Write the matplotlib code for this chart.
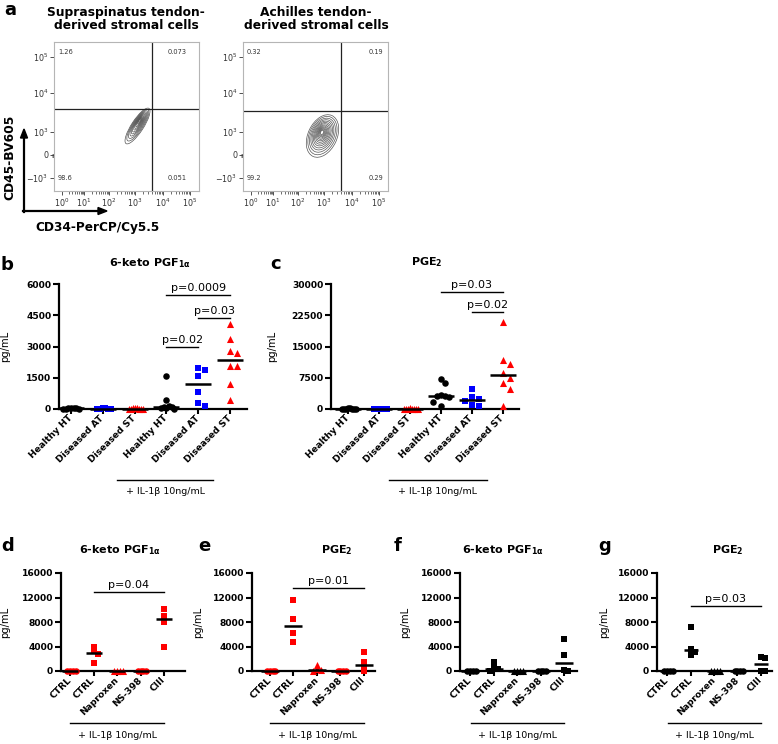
import numpy as np
import matplotlib.pyplot as plt
from matplotlib.patches import Ellipse
from matplotlib.transforms import blended_transform_factory

plt.rcParams['font.family'] = ['DejaVu Sans']
plt.rcParams['mathtext.default'] = 'regular'

# ---- data ----
# panel a: quadrant percentages (upper-left, upper-right, lower-left, lower-right)
quad_st = ['1.26', '0.073', '98.6', '0.051']
quad_at = ['0.32', '0.19', '99.2', '0.29']
flow_xticks = ['$10^0$', '$10^1$', '$10^2$', '$10^3$', '$10^4$', '$10^5$']
flow_yticks = ['$-10^3$', '0', '$10^3$', '$10^4$', '$10^5$']

# panels b, c
groups_bc = ['Healthy HT', 'Diseased AT', 'Diseased ST',
             'Healthy HT', 'Diseased AT', 'Diseased ST']
keto_b = [
    [40, 20, 60, 10, 30, 50, 0],
    [20, 10, 30, 0, 15, 25],
    [10, 30, 20, 0, 40, 15, 25, 5],
    [1600, 410, 140, 100, 80, 60, 30, 20],
    [1960, 1850, 1570, 810, 280, 120],
    [4070, 3360, 2800, 2700, 2050, 2040, 1220, 410],
]
pge2_c = [
    [120, 60, 90, 30, 150, 10, 80, 40],
    [60, 20, 100, 40, 0, 80],
    [100, 40, 70, 20, 130, 0, 60, 90],
    [7200, 6300, 3300, 3100, 3000, 2900, 1700, 600],
    [4800, 2800, 2300, 1900, 1000, 600],
    [20800, 11800, 10900, 8700, 7500, 6300, 4900, 800],
]

# panels d-g
groups_dg = ['CTRL', 'CTRL', 'Naproxen', 'NS-398', 'CIII']
keto_d = [[30, 10, 0, 20], [4000, 3300, 2700, 1250], [20, 0, 10, 30],
          [30, 10, 0, 20], [10100, 8900, 7950, 3950]]
pge2_e = [[30, 10, 0, 20], [11600, 8500, 6150, 4700], [900, 250, 100, 50],
          [30, 10, 0, 20], [3150, 1400, 700, 50]]
keto_f = [[30, 10, 0, 20], [1550, 500, 300, 50], [20, 0, 10, 30],
          [30, 10, 0, 20], [5300, 2600, 100, 80]]
pge2_g = [[30, 10, 0, 20], [7250, 3550, 3150, 2650], [20, 0, 10, 30],
          [30, 10, 0, 20], [2250, 2200, 50, 30]]

RED, BLUE, BLACK = '#ff0000', '#0000ff', '#000000'

W, H = 778, 744
fig = plt.figure(figsize=(W / 100, H / 100), dpi=100)


def px_axes(x0, y0, x1, y1):
    return fig.add_axes([x0 / W, 1 - y1 / H, (x1 - x0) / W, (y1 - y0) / H])


def ftext(x, y, s, **kw):
    fig.text(x / W, 1 - y / H, s, **kw)


# ---------------- panel a : flow plots ----------------
xt_pos = [8, 30, 55, 81, 109, 136]
yt_pos = [13, 36, 59, 98, 134]
left_levels = [1.0, 0.88, 0.77, 0.67, 0.58, 0.5, 0.42, 0.35, 0.28, 0.22, 0.16, 0.1]
right_levels = [1.0, 0.9, 0.8, 0.71, 0.63, 0.55, 0.48, 0.41, 0.35, 0.29,
                0.24, 0.19, 0.14, 0.1]


def flow_panel(x0, quad, hline, shape, levels, num_right):
    ax = px_axes(x0, 42, x0 + 145, 191)
    ax.set_xlim(0, 145)
    ax.set_ylim(0, 149)
    for s in ax.spines.values():
        s.set_color('#b5b5b5')
        s.set_linewidth(0.8)
    ax.set_xticks(xt_pos)
    ax.set_xticklabels(flow_xticks)
    ax.set_yticks(yt_pos)
    ax.set_yticklabels(flow_yticks)
    minor = []
    for a, b in zip(xt_pos[:-1], xt_pos[1:]):
        minor += [a + np.log10(k) * (b - a) for k in range(2, 10)]
    ax.set_xticks(minor, minor=True)
    ax.set_yticks([34.5, 35.5, 36.5, 37.5], minor=True)
    ax.tick_params(direction='out', length=3, width=0.6, color='#333333',
                   labelsize=5.8, pad=1, labelcolor='#333333')
    ax.tick_params(which='minor', direction='out', length=1.8, width=0.5,
                   color='#333333')
    ax.axvline(98, color='#222222', lw=0.9)
    ax.axhline(hline, color='#222222', lw=0.9)
    (cx, cy), (px, py), w, h, ang = shape
    for lv in levels:
        c = (px + (cx - px) * lv, py + (cy - py) * lv)
        ax.add_patch(Ellipse(c, w * lv, h * lv, angle=ang, fill=False,
                             ec='#555555', lw=0.5))
    kw = dict(fontsize=4.8, color='#333333', va='center')
    ax.text(4, 139, quad[0], ha='left', **kw)
    ax.text(num_right, 139, quad[1], ha='right', **kw)
    ax.text(4, 13, quad[2], ha='left', **kw)
    ax.text(num_right, 13, quad[3], ha='right', **kw)
    return ax


flow_panel(54, quad_st, 82, ((83.5, 65), (86, 71), 42, 12, 57), left_levels, 133)
flow_panel(243, quad_at, 80, ((79.5, 55), (79, 59), 45, 29, 65), right_levels, 140)

ftext(10, 10, 'a', fontsize=13, fontweight='bold', ha='center', va='center')
ftext(126, 19, 'Supraspinatus tendon-\nderived stromal cells', fontsize=8.8,
      fontweight='bold', ha='center', va='center', linespacing=1.05)
ftext(316, 19, 'Achilles tendon-\nderived stromal cells', fontsize=8.8,
      fontweight='bold', ha='center', va='center', linespacing=1.05)
ftext(10, 157, 'CD45-BV605', fontsize=8.8, fontweight='bold', rotation=90,
      ha='center', va='center')
ftext(97, 227, 'CD34-PerCP/Cy5.5', fontsize=8.7, fontweight='bold',
      ha='center', va='center')
fig.add_artist(plt.Line2D([24 / W, 24 / W], [1 - 212 / H, 1 - 136 / H],
                          color='black', lw=1.6))
fig.add_artist(plt.Line2D([23 / W, 100 / W], [1 - 211 / H, 1 - 211 / H],
                          color='black', lw=1.6))
fig.add_artist(plt.Polygon([[24 / W, 1 - 129 / H], [20.5 / W, 1 - 138 / H],
                            [27.5 / W, 1 - 138 / H]], closed=True, color='black'))
fig.add_artist(plt.Polygon([[107 / W, 1 - 211 / H], [98 / W, 1 - 207.5 / H],
                            [98 / W, 1 - 214.5 / H]], closed=True, color='black'))


# ---------------- dot plots ----------------
def swarm(ax, x0, vals, d, limit):
    # spread markers sideways like a scatter dot plot; squeeze if too wide
    tr = ax.transData
    placed = []
    for v in vals:
        p0 = tr.transform((x0, v))
        k = 0
        found = None
        while found is None:
            for c in ([0] if k == 0 else [k, -k]):
                p = (p0[0] + c * d, p0[1])
                if all((p[0] - q[0]) ** 2 + (p[1] - q[1]) ** 2 >= 0.98 * d * d
                       for q in placed):
                    found = p
                    break
            k += 1
        placed.append(found)
    cx = tr.transform((x0, 0))[0]
    offs = np.array([p[0] - cx for p in placed])
    big = np.abs(offs).max()
    if big > limit:
        offs = offs * limit / big
    inv = tr.inverted()
    return [inv.transform((cx + o, p[1]))[0] for o, p in zip(offs, placed)]


def dot_panel(box, data, labels, colors, markers, ymax, step, xlim,
              half_px, ylab_px, il_rng, il_y, sig, spread):
    x0, y0, x1, y1 = box
    ax = px_axes(x0, y0, x1, y1)
    ax.set_xlim(*xlim)
    ax.set_ylim(0, ymax)
    ppx = (x1 - x0) / (xlim[1] - xlim[0])
    half = half_px / ppx
    for i, vals in enumerate(data):
        v = sorted(vals, reverse=True)
        xs = swarm(ax, i, v, *spread)
        ax.scatter(xs, v, s=22 if markers[i] != '^' else 26, marker=markers[i],
                   color=colors[i], linewidths=0, clip_on=False, zorder=3)
        m = np.median(vals)
        ax.plot([i - half, i + half], [m, m], color='black', lw=1.8,
                clip_on=False, zorder=4, solid_capstyle='butt')
    for s in ['top', 'right']:
        ax.spines[s].set_visible(False)
    for s in ['left', 'bottom']:
        ax.spines[s].set_linewidth(1.6)
    ax.set_yticks(np.arange(0, ymax + 1, step))
    ax.set_xticks(range(len(labels)))
    ax.set_xticklabels(labels, rotation=45, ha='right', va='center',
                       rotation_mode='anchor', fontweight='bold', fontsize=6.6)
    for t in ax.get_yticklabels():
        t.set_fontweight('bold')
    ax.tick_params(axis='y', length=4, width=1.5, labelsize=6.6, pad=1.5)
    ax.tick_params(axis='x', length=3.5, width=1.5, pad=2)
    ax.set_ylabel('pg/mL', fontsize=7.2)
    ax.yaxis.set_label_coords(-ylab_px / (x1 - x0), 0.5)
    h = y1 - y0
    tr = blended_transform_factory(ax.transData, ax.transAxes)
    ax.plot(il_rng, [-il_y / h] * 2, color='black', lw=1, transform=tr,
            clip_on=False)
    ax.text(sum(il_rng) / 2, -(il_y + 12) / h, '+ IL-1\u03b2 10ng/mL', fontsize=6.8,
            ha='center', va='center', transform=tr)
    for a, b, yv, txt in sig:
        ax.plot([a, b], [yv, yv], color='black', lw=1, clip_on=False)
        ax.annotate(txt, ((a + b) / 2, yv), xytext=(0, 1.5), textcoords='offset points',
                    ha='center', va='bottom', fontsize=8, annotation_clip=False)
    return ax


cols_bc = [BLACK, BLUE, RED, BLACK, BLUE, RED]
mk_bc = ['o', 's', '^', 'o', 's', '^']
mk_dg = ['o', 's', '^', 'o', 's']
top_spread = (7, 8)
low_spread = (4, 5.5)

dot_panel((59, 284, 247, 409), keto_b, groups_bc, cols_bc, mk_bc, 6000, 1500,
          (-0.377, 5.53), 13, 49, (1.45, 4.47), 71,
          [(3, 5, 5470, 'p=0.0009'), (4, 5, 4370, 'p=0.03'), (3, 4, 2980, 'p=0.02')],
          top_spread)
dot_panel((331, 284, 519, 409), pge2_c, groups_bc, cols_bc, mk_bc, 30000, 7500,
          (-0.548, 5.52), 13, 54, (1.32, 4.48), 71,
          [(3, 5, 28080, 'p=0.03'), (4, 5, 23280, 'p=0.02')], top_spread)
dot_panel((61, 573, 185, 671), keto_d, groups_dg, [RED] * 5, mk_dg, 16000, 4000,
          (-0.383, 4.89), 8, 51, (0.02, 4.0), 52, [(1, 4, 12900, 'p=0.04')],
          low_spread)
dot_panel((252, 573, 375, 671), pge2_e, groups_dg, [RED] * 5, mk_dg, 16000, 4000,
          (-0.766, 4.47), 9, 49, (0.02, 4.0), 52, [(1, 4, 13550, 'p=0.01')],
          low_spread)
dot_panel((460, 573, 577, 671), keto_f, groups_dg, [BLACK] * 5, mk_dg, 16000, 4000,
          (-0.43, 4.55), 9, 50, (0.02, 4.0), 52, [], low_spread)
dot_panel((657, 573, 772, 671), pge2_g, groups_dg, [BLACK] * 5, mk_dg, 16000, 4000,
          (-0.43, 4.47), 7, 48, (0.02, 4.0), 52, [(1, 4, 10600, 'p=0.03')],
          low_spread)

# titles and panel letters
keto = r'6-keto PGF$_{\mathbf{1}\alpha}$'
pge = r'PGE$_{\mathbf{2}}$'
tkw = dict(fontsize=8, fontweight='bold', ha='center', va='center')
ftext(150, 263, keto, **tkw)
ftext(427, 262, pge, **tkw)
ftext(120, 550, keto, **tkw)
ftext(337, 550, pge, **tkw)
ftext(503, 550, keto, **tkw)
ftext(728, 550, pge, **tkw)
lkw = dict(fontsize=13, fontweight='bold', ha='center', va='center')
ftext(7, 265, 'b', **lkw)
ftext(276, 264, 'c', **lkw)
ftext(8, 546, 'd', **lkw)
ftext(204, 546, 'e', **lkw)
ftext(398, 546, 'f', **lkw)
ftext(605, 546, 'g', **lkw)

fig.savefig('out.png', dpi=100)
